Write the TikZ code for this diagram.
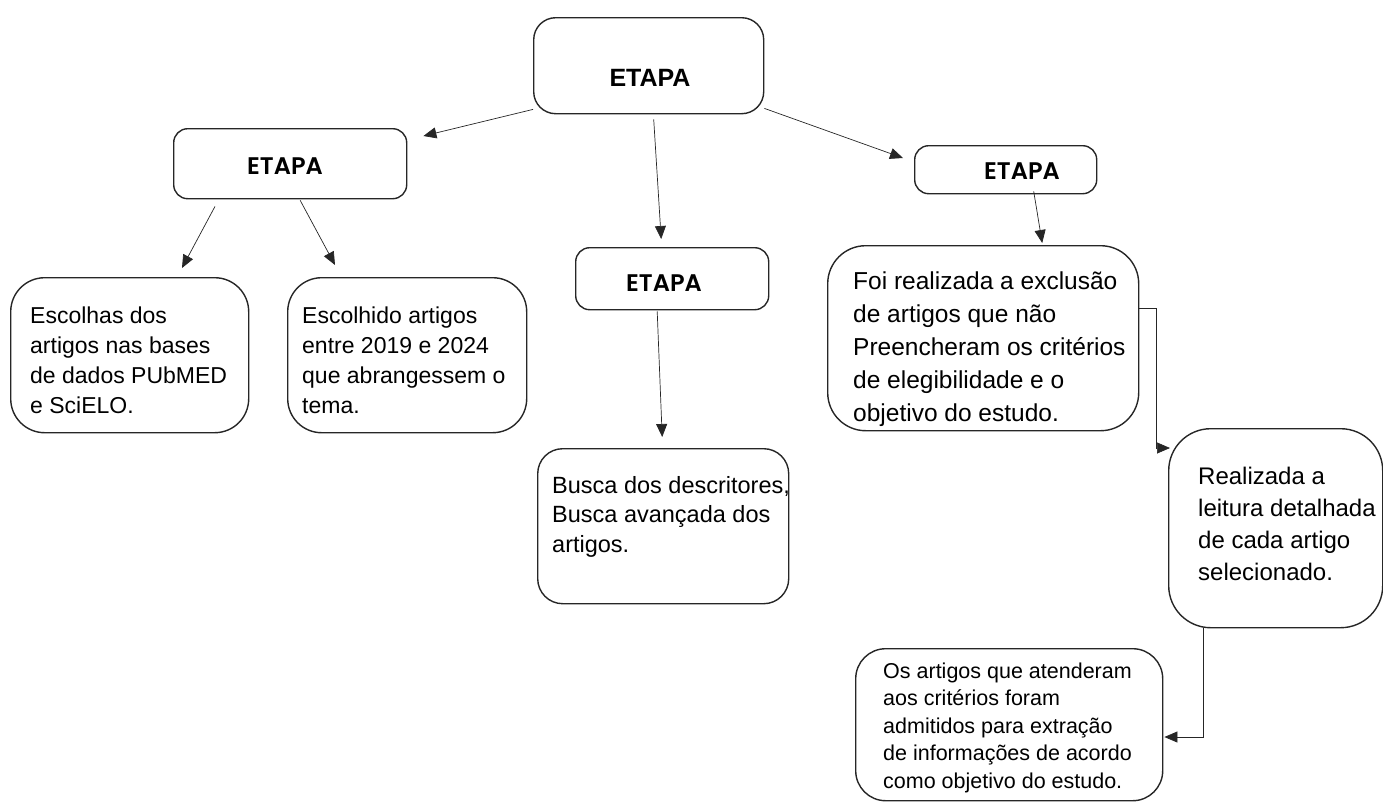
\documentclass[tikz,border=0pt]{standalone}
\usepackage{fontspec}
\setmainfont{Liberation Sans}
\newfontfamily\etapafont{Poppins SemiBold}
\usetikzlibrary{calc,arrows.meta}
\begin{document}
\begin{tikzpicture}[x=1pt,y=-1pt,
  box/.style={draw=black!85, line width=1.4pt, rounded corners=#1, inner sep=0pt, anchor=north west},
  box/.default=30pt,
  etapa/.style={inner sep=0pt, font=\etapafont\fontsize{24}{28}\selectfont},
  txt/.style={anchor=base west, inner sep=0pt, align=left},
  conn/.style={line width=0.7pt, draw=black!85, -{Triangle[length=13pt,width=11pt]}},
]
\useasboundingbox (0,0) rectangle (1383,807);
% boxes (text nodes are anchored at the baseline of their last line)
\node[box=22pt, minimum width=230pt, minimum height=96pt] (top) at (533,17) {};
\node[font=\bfseries\fontsize{25}{30}\selectfont, inner sep=0pt] (topt) at (650,78) {ETAPA};
\node[box=14pt, minimum width=233pt, minimum height=70pt] (leftE) at (173,128) {};
\node[etapa] (leftEt) at (285,166) {ETAPA};
\node[box=14pt, minimum width=193pt, minimum height=62pt] (midE) at (575,247) {};
\node[etapa] (midEt) at (664,283) {ETAPA};
\node[box=14pt, minimum width=182pt, minimum height=48pt] (rightE) at (914,145) {};
\node[etapa] (rightEt) at (1022,171) {ETAPA};

\node[box=34pt, minimum width=238pt, minimum height=155pt] (b1) at (10,277) {};
\node[txt, font=\fontsize{23}{30}\selectfont] (b1t) at (30,413) {Escolhas dos\\artigos nas bases\\de dados PUbMED\\e SciELO.};
\node[box=34pt, minimum width=239pt, minimum height=155pt] (b2) at (287,277) {};
\node[txt, font=\fontsize{23}{30}\selectfont] (b2t) at (302,413) {Escolhido artigos\\entre 2019 e 2024\\que abrangessem o\\tema.};
\node[box=25pt, minimum width=251pt, minimum height=155pt] (busca) at (537,448) {};
\node[txt, font=\fontsize{23.5}{29.5}\selectfont] (buscat) at (552,552) {Busca dos descritores,\\Busca avançada dos\\artigos.};
\node[box=38pt, minimum width=311pt, minimum height=185pt] (foi) at (827,245) {};
\node[txt, font=\fontsize{24.5}{33}\selectfont] (foit) at (853,421) {Foi realizada a exclusão\\de artigos que não\\Preencheram os critérios\\de elegibilidade e o\\objetivo do estudo.};
\node[box=42pt, minimum width=214pt, minimum height=199pt] (real) at (1168,428) {};
\node[txt, font=\fontsize{24}{32}\selectfont] (realt) at (1198,580) {Realizada a\\leitura detalhada\\de cada artigo\\selecionado.};
\node[box=30pt, minimum width=307pt, minimum height=152pt] (os) at (855,648) {};
\node[txt, font=\fontsize{21.5}{27.5}\selectfont] (ost) at (883,788) {Os artigos que atenderam\\aos critérios foram\\admitidos para extração\\de informações de acordo\\como objetivo do estudo.};

% connectors
\draw[conn] ($(top.south west)+(0,-5)$) -- ($(leftE.north east)+(16,8)$);
\draw[conn] ($(top.south)+(5,5)$) -- ($(midE.north)+(-11,-8)$);
\draw[conn] ($(top.south east)+(0,-6)$) -- ($(rightE.north west)+(-11,13)$);
\draw[conn] ($(leftE.south west)+(42,7)$) -- ($(b1.north west)+(172,-9)$);
\draw[conn] ($(leftE.south)+(10,1)$) -- ($(b2.north west)+(48,-12)$);
\draw[conn] ($(midE.south)+(-15,1)$) -- ($(busca.north)+(-1,-11)$);
\draw[conn] ($(rightE.south)+(28,-3)$) -- ($(foi.north)+(59,-2)$);
\draw[conn] ($(foi.north east)+(0,63)$) -- ++(17,0) |- ($(real.north west)+(2,20)$);
\draw[conn] ($(real.south west)+(35,0)$) |- ($(os.north east)+(1,89)$);
\end{tikzpicture}
\end{document}
